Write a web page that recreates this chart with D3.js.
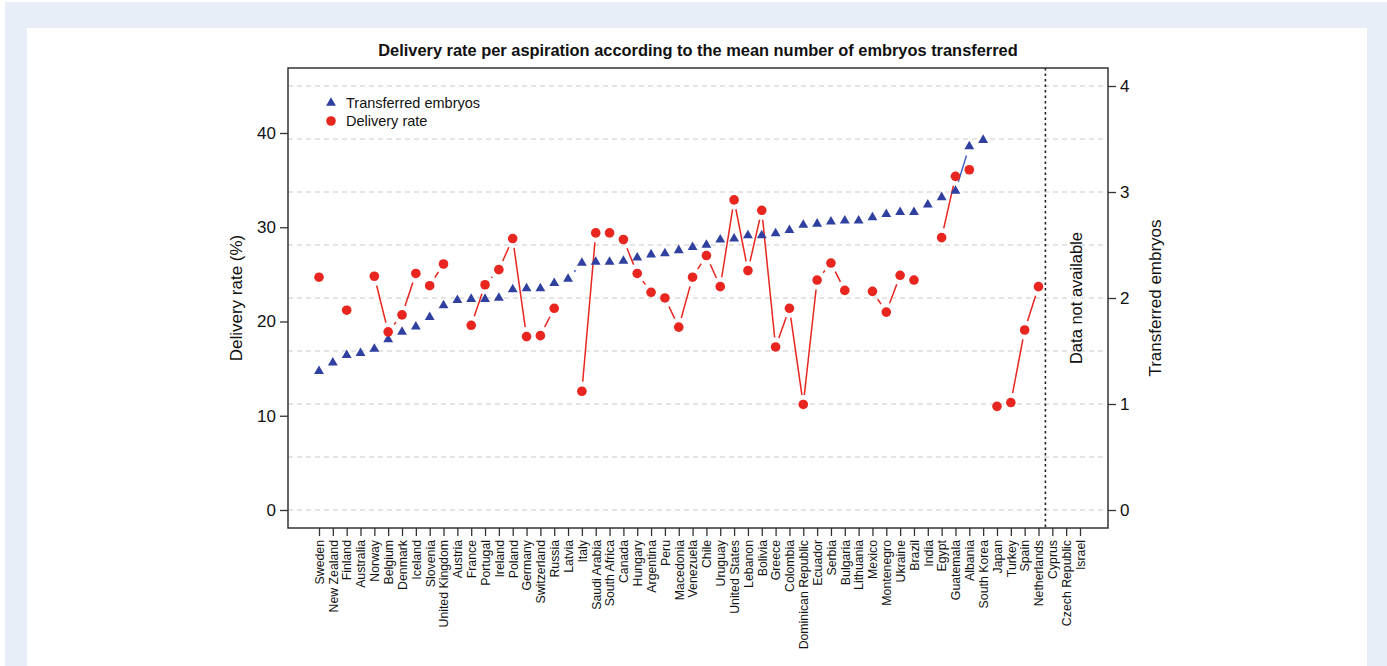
<!DOCTYPE html>
<html>
<head>
<meta charset="utf-8">
<script src="https://cdn.jsdelivr.net/npm/d3@7"></script>
<style>
  html, body { margin: 0; padding: 0; background: #ffffff; }
  svg { display: block; font-family: "Liberation Sans", Arial, Helvetica, sans-serif; }
</style>
</head>
<body>
<svg id="chart" width="1387" height="666"></svg>
<script>
// Countries, ordered by mean number of embryos transferred
const countries = [
  "Sweden", "New Zealand", "Finland", "Australia", "Norway", "Belgium", "Denmark",
  "Iceland", "Slovenia", "United Kingdom", "Austria", "France", "Portugal", "Ireland",
  "Poland", "Germany", "Switzerland", "Russia", "Latvia", "Italy", "Saudi Arabia",
  "South Africa", "Canada", "Hungary", "Argentina", "Peru", "Macedonia", "Venezuela",
  "Chile", "Uruguay", "United States", "Lebanon", "Bolivia", "Greece", "Colombia",
  "Dominican Republic", "Ecuador", "Serbia", "Bulgaria", "Lithuania", "Mexico",
  "Montenegro", "Ukraine", "Brazil", "India", "Egypt", "Guatemala", "Albania",
  "South Korea", "Japan", "Turkey", "Spain", "Netherlands", "Cyprus", "Czech Republic",
  "Israel"
];

// Mean number of embryos transferred (right axis); null = not reported
const embryos = [
  1.31, 1.39, 1.46, 1.48, 1.52, 1.61, 1.68,
  1.73, 1.82, 1.93, 1.98, 1.99, 1.99, 2.00,
  2.08, 2.09, 2.09, 2.14, 2.18, 2.33, 2.34,
  2.34, 2.35, 2.38, 2.41, 2.42, 2.45, 2.48,
  2.50, 2.55, 2.56, 2.59, 2.59, 2.61, 2.64,
  2.69, 2.70, 2.72, 2.73, 2.73, 2.76,
  2.79, 2.81, 2.81, 2.88, 2.95, 3.01, 3.43,
  3.49, null, null, null, null, null, null,
  null
];

// Delivery rate per aspiration, % (left axis); null = not reported
const delivery = [
  24.7, null, 21.2, null, 24.8, 18.9, 20.7,
  25.1, 23.8, 26.1, null, 19.6, 23.9, 25.5,
  28.8, 18.4, 18.5, 21.4, null, 12.6, 29.4,
  29.4, 28.7, 25.1, 23.1, 22.5, 19.4, 24.7,
  27.0, 23.7, 32.9, 25.4, 31.8, 17.3, 21.4,
  11.2, 24.4, 26.2, 23.3, null, 23.2,
  21.0, 24.9, 24.4, null, 28.9, 35.4, 36.1,
  null, 11.0, 11.4, 19.1, 23.7, null, null,
  null
];

const leftTicks = [0, 10, 20, 30, 40];
const rightTicks = [0, 1, 2, 3, 4];
const gridLevels = [0, 0.5, 1, 1.5, 2, 2.5, 3, 3.5, 4];
const firstMissing = "Cyprus";

const svg = d3.select("#chart");
const W = 1387, H = 666;

// page frame
svg.append("rect").attr("x", 5).attr("y", 2).attr("width", W - 5).attr("height", H - 2)
  .attr("fill", "#e7eef8");
svg.append("rect").attr("x", 27).attr("y", 28).attr("width", 1367 - 27).attr("height", H - 28)
  .attr("fill", "#ffffff");

// plot box
const box = { left: 288, right: 1108, top: 68, bottom: 528 };

const x = d3.scaleLinear().domain([0, countries.length - 1]).range([319, 1080]);
const yL = d3.scaleLinear().domain([0, 40]).range([510, 133]);
const yR = d3.scaleLinear().domain([0, 4]).range([510, 86]);

const red = "#e8261f";
const blue = "#2f40a0";
const blueLine = "#3b55c4";

// horizontal dashed grid (at half-embryo steps)
svg.append("g").selectAll("line").data(gridLevels).join("line")
  .attr("x1", box.left).attr("x2", box.right)
  .attr("y1", d => yR(d)).attr("y2", d => yR(d))
  .attr("stroke", "#c9c9c9").attr("stroke-width", 1.2)
  .attr("stroke-dasharray", "5,4");

// separator for countries without data
const sepX = (x(countries.indexOf(firstMissing)) + x(countries.indexOf(firstMissing) - 1)) / 2;
svg.append("line")
  .attr("x1", sepX).attr("x2", sepX).attr("y1", box.top).attr("y2", box.bottom)
  .attr("stroke", "#222").attr("stroke-width", 1.6).attr("stroke-dasharray", "2.5,3");

svg.append("text")
  .attr("transform", `translate(${(sepX + box.right) / 2 + 5},${(box.top + box.bottom) / 2}) rotate(-90)`)
  .attr("text-anchor", "middle")
  .attr("font-size", 16.5).attr("fill", "#111")
  .text("Data not available");

// "both" style connecting segments: lines between consecutive points, with a gap at each point
function gappedSegments(values, yScale, gap) {
  const segs = [];
  for (let i = 0; i < values.length - 1; i++) {
    const a = values[i], b = values[i + 1];
    if (a == null || b == null) continue;
    const x1 = x(i), y1 = yScale(a), x2 = x(i + 1), y2 = yScale(b);
    const len = Math.hypot(x2 - x1, y2 - y1);
    if (len <= 2 * gap) continue;
    const ux = (x2 - x1) / len, uy = (y2 - y1) / len;
    segs.push({ x1: x1 + ux * gap, y1: y1 + uy * gap, x2: x2 - ux * gap, y2: y2 - uy * gap });
  }
  return segs;
}

svg.append("g").selectAll("line").data(gappedSegments(embryos, yR, 9.5)).join("line")
  .attr("x1", d => d.x1).attr("y1", d => d.y1).attr("x2", d => d.x2).attr("y2", d => d.y2)
  .attr("stroke", blueLine).attr("stroke-width", 1.4);

svg.append("g").selectAll("line").data(gappedSegments(delivery, yL, 9.5)).join("line")
  .attr("x1", d => d.x1).attr("y1", d => d.y1).attr("x2", d => d.x2).attr("y2", d => d.y2)
  .attr("stroke", red).attr("stroke-width", 1.5);

// triangles: transferred embryos
const tri = d3.symbol().type(d3.symbolTriangle).size(42);
svg.append("g").selectAll("path")
  .data(embryos.map((v, i) => ({ v, i })).filter(d => d.v != null))
  .join("path")
  .attr("d", tri)
  .attr("transform", d => `translate(${x(d.i)},${yR(d.v)})`)
  .attr("fill", blue);

// circles: delivery rate
svg.append("g").selectAll("circle")
  .data(delivery.map((v, i) => ({ v, i })).filter(d => d.v != null))
  .join("circle")
  .attr("cx", d => x(d.i)).attr("cy", d => yL(d.v)).attr("r", 4.8)
  .attr("fill", red);

// plot frame
svg.append("rect")
  .attr("x", box.left).attr("y", box.top)
  .attr("width", box.right - box.left).attr("height", box.bottom - box.top)
  .attr("fill", "none").attr("stroke", "#333").attr("stroke-width", 1.5);

// axes
const axisL = svg.append("g").attr("transform", `translate(${box.left},0)`)
  .call(d3.axisLeft(yL).tickValues(leftTicks).tickFormat(d3.format("d")).tickSize(8).tickPadding(4));
const axisR = svg.append("g").attr("transform", `translate(${box.right},0)`)
  .call(d3.axisRight(yR).tickValues(rightTicks).tickFormat(d3.format("d")).tickSize(8).tickPadding(4));
const axisB = svg.append("g").attr("transform", `translate(0,${box.bottom})`)
  .call(d3.axisBottom(x).tickValues(d3.range(countries.length))
    .tickFormat(i => countries[i]).tickSize(8));

[axisL, axisR, axisB].forEach(g => {
  g.attr("font-family", null).attr("font-size", null);
  g.select(".domain").remove();
  g.selectAll(".tick line").attr("stroke", "#333").attr("stroke-width", 1.3);
  g.selectAll("text").attr("fill", "#111");
});
axisL.selectAll("text").attr("font-size", 17);
axisR.selectAll("text").attr("font-size", 17);
axisB.selectAll("text")
  .attr("font-size", 12.3)
  .attr("transform", "rotate(-90)")
  .attr("x", -12).attr("y", 0).attr("dy", "0.35em")
  .attr("text-anchor", "end");

// axis titles
svg.append("text")
  .attr("transform", `translate(242,${(box.top + box.bottom) / 2}) rotate(-90)`)
  .attr("text-anchor", "middle").attr("font-size", 17).attr("fill", "#111")
  .text("Delivery rate (%)");
svg.append("text")
  .attr("transform", `translate(1161,${(box.top + box.bottom) / 2}) rotate(-90)`)
  .attr("text-anchor", "middle").attr("font-size", 17).attr("fill", "#111")
  .text("Transferred embryos");

// title
svg.append("text")
  .attr("x", 698).attr("y", 56)
  .attr("text-anchor", "middle").attr("font-size", 16.4).attr("font-weight", "bold")
  .attr("fill", "#111")
  .text("Delivery rate per aspiration according to the mean number of embryos transferred");

// legend
const legend = svg.append("g").attr("transform", "translate(331,103)");
legend.append("path").attr("d", tri).attr("fill", blue);
legend.append("text").attr("x", 15).attr("y", 0).attr("dy", "0.35em")
  .attr("font-size", 14.5).attr("fill", "#111").text("Transferred embryos");
legend.append("circle").attr("cx", 0).attr("cy", 18).attr("r", 4.8).attr("fill", red);
legend.append("text").attr("x", 15).attr("y", 18).attr("dy", "0.35em")
  .attr("font-size", 14.5).attr("fill", "#111").text("Delivery rate");
</script>
</body>
</html>
